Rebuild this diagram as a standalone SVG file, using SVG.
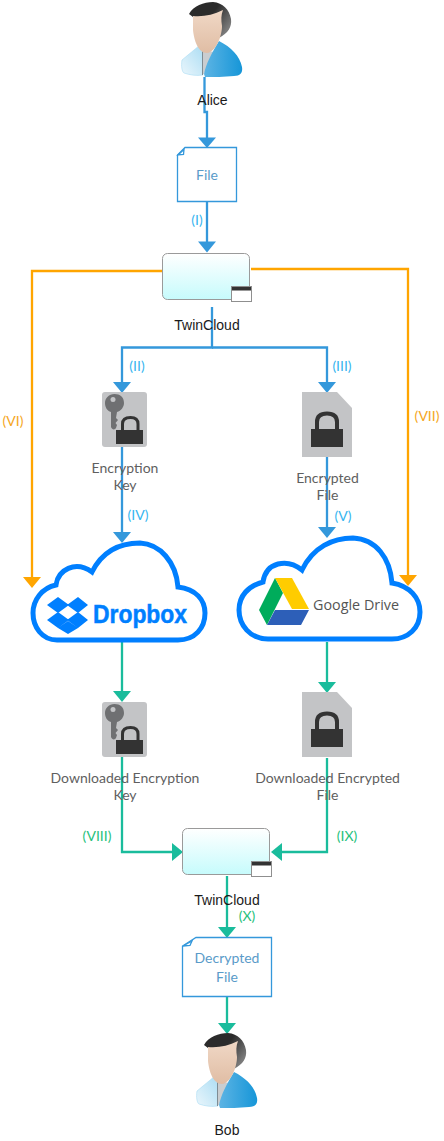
<svg xmlns="http://www.w3.org/2000/svg" width="444" height="1141" viewBox="0 0 444 1141">
<style>
.c{fill:none;stroke-width:2.300}
.b{stroke:#3498db}.o{stroke:#ffa500}.g{stroke:#1abc9c}
.fb{fill:#3498db}.fo{fill:#ffa500}.fg{fill:#1abc9c}
text{font-family:"Lato","Liberation Sans",sans-serif;font-size:14px;text-anchor:middle}
.n{font-family:"Liberation Sans",Arial,sans-serif;fill:#1a1a1a}
.l{fill:#5f5f5f}
.t{fill:#5a9bc9}
.lb{fill:#36b5f0}.lo{fill:#f5a623}.lg{fill:#27c17c}
.cloud{fill:#fff;stroke:#007fff;stroke-width:5}
.doc{fill:#fff;stroke:#3498db;stroke-width:1.300}
</style>
<defs>
<linearGradient id="hair" x1="0" y1="0" x2="1" y2="0.6"><stop offset="0.55" stop-color="#2b2b2b"/><stop offset="1" stop-color="#7a7a7a"/></linearGradient>
<linearGradient id="face" x1="0" y1="0" x2="0" y2="1"><stop offset="0" stop-color="#f0d8c6"/><stop offset="1" stop-color="#e0bda4"/></linearGradient>
<linearGradient id="bodyR" x1="0" y1="0" x2="1" y2="0"><stop offset="0" stop-color="#5db4e4"/><stop offset="1" stop-color="#1696d8"/></linearGradient>
<linearGradient id="bodyL" x1="0" y1="1" x2="1" y2="0"><stop offset="0" stop-color="#eaf6fc"/><stop offset="1" stop-color="#a9dcf3"/></linearGradient>
<linearGradient id="win" x1="0" y1="0" x2="0" y2="1"><stop offset="0" stop-color="#fff"/><stop offset="1" stop-color="#c6fbfc"/></linearGradient>
<g id="person">
<path d="M200 45L182 60C181 66 182 72 184 73C190 75 196 76 203 75L204 50Z" fill="url(#bodyL)" stroke="#a9dcf3" stroke-width=".6"/>
<path d="M202 50L215 52L204 74H202Z" fill="#c9cdd0"/>
<path d="M202.500 51V75" stroke="#7f8c93" stroke-width="1" fill="none"/>
<path d="M219 41C231 47 240 56 242 67C243 73 240 76 234 76C224 77 214 77 205 77L204 74C206 64 212 52 219 41Z" fill="url(#bodyR)"/>
<path d="M189 14C193 6 204 2 213 2C223 3 229 9 231 19C232 27 228 33 219 38L217 18L193 17L189 14Z" fill="url(#hair)"/>
<path d="M193 16C203 17 213 15 223 10C221 15 221 20 222 26C222 36 216 52 207 53C198 53 194 40 193 30Z" fill="url(#face)"/>
</g>
<g id="window">
<rect x="0.500" y="0.500" width="87" height="46" rx="5" fill="url(#win)" stroke="#9a9a9a"/>
<rect x="69.500" y="33.500" width="20" height="15" fill="#fff" stroke="#8f8f8f"/>
<rect x="70" y="34" width="19" height="3.500" fill="#333"/>
</g>
<g id="keyfile">
<rect x="0" y="0" width="45" height="55" rx="3" fill="#c3c4c6"/>
<path d="M9 20L9 35C10 38 13 38 14 36L15 33L13.500 31L16 28L14 26L15 20C19 19 22 15 22 11C22 5 18 2 12.500 2C7 2 3 6 3 11C3 15 5 19 9 20Z" fill="#6f7072"/>
<circle cx="11" cy="7.500" r="2.500" fill="#c3c4c6"/>
<path d="M20.500 38V32C20.500 27.500 24 25.500 28.500 25.500C33 25.500 36 27.500 36 32V38" fill="none" stroke="#333" stroke-width="3"/>
<rect x="14" y="38" width="27" height="14" fill="#333"/>
</g>
<g id="lockfile">
<path d="M0 0H35L50 16V65H0Z" fill="#c3c4c6"/>
<path d="M15 37V30C15 24 19 21.500 25 21.500C31 21.500 35 24 35 30V37" fill="none" stroke="#333" stroke-width="4"/>
<rect x="9" y="37" width="32" height="18" fill="#333"/>
</g>
</defs>

<g id="connectors">
<path class="c b" d="M204.500 77V112H207V139"/>
<path class="c b" d="M207 202V245"/>
<path class="c b" d="M212 307V347.500H122V384"/>
<path class="c b" d="M212 347.500H327V384"/>
<path class="c b" d="M122 446V534"/>
<path class="c b" d="M327 457V529"/>
<path class="c o" d="M162 271H32V578"/>
<path class="c o" d="M251 269H408V576"/>
<path class="c g" d="M122 641V693"/>
<path class="c g" d="M327 642V684"/>
<path class="c g" d="M122 756V852H174"/>
<path class="c g" d="M327 758V852H280"/>
<path class="c g" d="M227 876V930"/>
<path class="c g" d="M227 997V1025"/>
</g>

<g id="arrowheads">
<path class="fb" d="M198 137.500H216L207 148Z"/>
<path class="fb" d="M198 241.500H216L207 252.500Z"/>
<path class="fb" d="M113 382H131L122 393Z"/>
<path class="fb" d="M318 382H336L327 393Z"/>
<path class="fb" d="M113 532H131L122 543Z"/>
<path class="fb" d="M318 527H336L327 538Z"/>
<path class="fo" d="M23 577H41L32 588Z"/>
<path class="fo" d="M399 575H417L408 586Z"/>
<path class="fg" d="M113 691H131L122 702Z"/>
<path class="fg" d="M318 682H336L327 693Z"/>
<path class="fg" d="M172 843V861L183 852Z"/>
<path class="fg" d="M282 843V861L271 852Z"/>
<path class="fg" d="M218 927H236L227 938Z"/>
<path class="fg" d="M218 1023H236L227 1034Z"/>
</g>

<g id="alice"><use href="#person"/><text class="n" x="212.500" y="105">Alice</text></g>
<g id="file"><path class="doc" d="M185 147.500H236.500V201.500H177.500V155Z"/><path class="doc" d="M178 155L184 149.500L183.500 154.500Z"/><text class="t" x="207" y="180">File</text></g>
<g id="twincloud1"><use href="#window" x="162" y="253"/><text class="n" x="207" y="330">TwinCloud</text></g>
<g id="enckey"><use href="#keyfile" x="102" y="392"/><text class="l" x="125" y="473">Encryption</text><text class="l" x="125" y="490">Key</text></g>
<g id="encfile"><use href="#lockfile" x="302" y="392"/><text class="l" x="327.500" y="483">Encrypted</text><text class="l" x="327.500" y="500">File</text></g>
<g id="dropbox">
<path class="cloud" d="M56 585C58 570 75 560 92 572C103 550 120 543 140 543C160 544 176 562 178 587C196 589 205 600 205 613C205 628 195 640 178 640H57C42 640 33 627 33 613C33 600 42 588 56 585Z"/>
<path fill="#007fff" d="M58 597L47 605L58 613L69 605Z M78 597L67 605L78 613L88 605Z M58 612L47 620L58 628L69 620Z M78 612L67 620L78 628L88 620Z M68 621L78 628L68 634L58 628Z"/>
<text x="140" y="623" style="font-family:'Liberation Sans',sans-serif;font-weight:700;font-size:26px;fill:#007fff;stroke:#007fff;stroke-width:.5" textLength="94" lengthAdjust="spacingAndGlyphs">Dropbox</text>
</g>
<g id="gdrive">
<path class="cloud" d="M263 582C266 562 287 558 302 570C313 547 333 538 353 538C376 539 390 558 392 583C410 586 420 598 420 612C420 628 408 639 392 639H268C250 639 239 625 239 610C239 596 248 586 263 582Z"/>
<path fill="#00ac5b" d="M275 578L259 610L267 625L283 593Z"/>
<path fill="#ffcc00" d="M275 578H292L309 609H292Z"/>
<path fill="#2d5fb8" d="M275 610H309L301 625H267Z"/>
<text x="356" y="610" style="font-family:'Open Sans',sans-serif;font-size:15px;fill:#555" textLength="86" lengthAdjust="spacingAndGlyphs">Google Drive</text>
</g>
<g id="dlkey"><use href="#keyfile" x="102" y="702"/><text class="l" x="125" y="783">Downloaded Encryption</text><text class="l" x="125" y="800">Key</text></g>
<g id="dlfile"><use href="#lockfile" x="302" y="692"/><text class="l" x="327.500" y="783">Downloaded Encrypted</text><text class="l" x="327.500" y="800">File</text></g>
<g id="twincloud2"><use href="#window" x="182" y="828"/><text class="n" x="227" y="905">TwinCloud</text></g>
<g id="decrypted"><path class="doc" d="M196 937.500H271.500V996.500H182.500V946Z"/><path class="doc" d="M183 946L192 941L190 945.500Z"/><text class="t" x="227" y="963">Decrypted</text><text class="t" x="227" y="982">File</text></g>
<g id="bob"><use href="#person" x="15" y="1031"/><text class="n" x="227" y="1135">Bob</text></g>

<g id="labels">
<text class="lb" x="197" y="225">(I)</text>
<text class="lb" x="137" y="371">(II)</text>
<text class="lb" x="342" y="371">(III)</text>
<text class="lb" x="138" y="520">(IV)</text>
<text class="lb" x="343" y="521">(V)</text>
<text class="lo" x="13" y="426">(VI)</text>
<text class="lo" x="427" y="421">(VII)</text>
<text class="lg" x="97" y="841">(VIII)</text>
<text class="lg" x="347" y="841">(IX)</text>
<text class="lg" x="247" y="921">(X)</text>
</g>
</svg>
